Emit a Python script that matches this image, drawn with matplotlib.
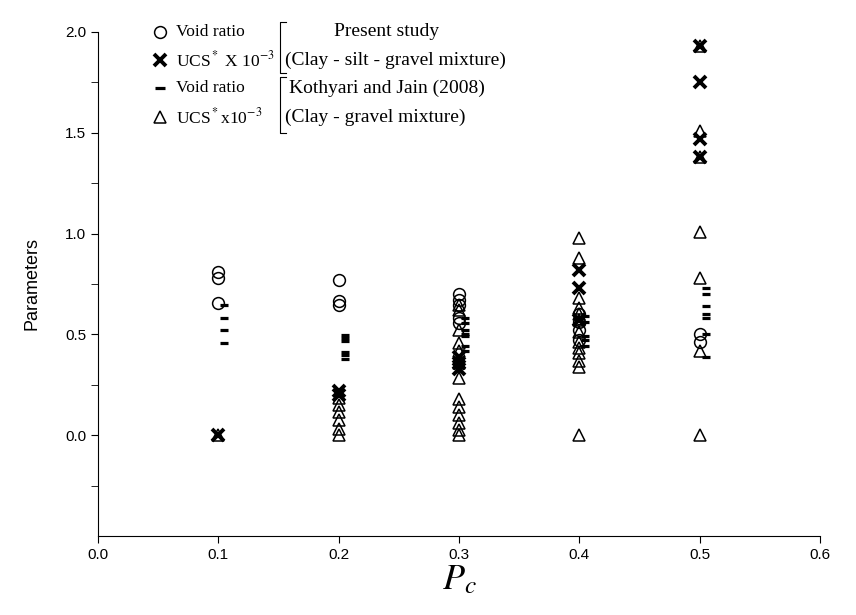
import matplotlib.pyplot as plt
from matplotlib.path import Path

# data
void_present_x = [0.1] * 3 + [0.2] * 3 + [0.3] * 5 + [0.4] * 4 + [0.5] * 2
void_present_y = [0.81, 0.78, 0.655,
                  0.77, 0.667, 0.645,
                  0.70, 0.67, 0.645, 0.58, 0.555,
                  0.60, 0.56, 0.52, 0.47,
                  0.50, 0.46]

ucs_present_x = [0.1] + [0.2] * 2 + [0.3] * 3 + [0.4] * 3 + [0.5] * 4
ucs_present_y = [0.0,
                 0.22, 0.20,
                 0.39, 0.36, 0.33,
                 0.82, 0.73, 0.57,
                 1.93, 1.75, 1.47, 1.38]

void_kj_x = [0.1] * 4 + [0.2] * 6 + [0.3] * 7 + [0.4] * 5 + [0.5] * 7
void_kj_y = [0.645, 0.58, 0.52, 0.457,
             0.495, 0.48, 0.465, 0.413, 0.397, 0.38,
             0.58, 0.555, 0.52, 0.50, 0.49, 0.44, 0.42,
             0.59, 0.56, 0.49, 0.47, 0.44,
             0.73, 0.70, 0.64, 0.60, 0.58, 0.50, 0.39]

ucs_kj_x = [0.1] + [0.2] * 6 + [0.3] * 13 + [0.4] * 13 + [0.5] * 7
ucs_kj_y = [0.0,
            0.182, 0.149, 0.116, 0.074, 0.033, 0.0,
            0.645, 0.62, 0.52, 0.457, 0.42, 0.357, 0.283, 0.18, 0.14, 0.10, 0.06, 0.025, 0.0,
            0.98, 0.88, 0.68, 0.63, 0.60, 0.57, 0.51, 0.46, 0.43, 0.41, 0.37, 0.34, 0.0,
            1.93, 1.51, 1.38, 1.01, 0.78, 0.42, 0.0]

legend_labels = ['Void ratio', r'UCS$^*$ X 10$^{-3}$', 'Void ratio', r'UCS$^*$x10$^{-3}$']

xticks = [0.0, 0.1, 0.2, 0.3, 0.4, 0.5, 0.6]
yticks = [0.0, 0.5, 1.0, 1.5, 2.0]

plt.rcParams['font.family'] = ['Liberation Sans', 'DejaVu Sans']
plt.rcParams['mathtext.fontset'] = 'stix'

fig = plt.figure(figsize=(8.56, 6.15), dpi=100)
ax = fig.add_axes([0.1145, 0.1285, 0.8435, 0.8195])

dash = Path([(0.2, 0), (1.0, 0)], [Path.MOVETO, Path.LINETO])
styles = [dict(marker='o', mfc='none', mec='black', ms=8.5, mew=1.1),
          dict(marker='x', color='black', ms=8, mew=2.8),
          dict(marker=dash, color='black', ms=14, mew=2.3),
          dict(marker='^', mfc='none', mec='black', ms=9, mew=1.1)]

series = [(void_present_x, void_present_y), (ucs_present_x, ucs_present_y),
          (void_kj_x, void_kj_y), (ucs_kj_x, ucs_kj_y)]
for (xs, ys), st in zip(series, styles):
    ax.plot(xs, ys, ls='none', **st)

ax.set_xlim(0.0, 0.6)
ax.set_ylim(-0.5, 2.0)
ax.set_xticks(xticks)
ax.set_yticks(yticks)
ax.set_xticklabels(['%.1f' % v for v in xticks])
ax.set_yticklabels(['%.1f' % v for v in yticks])
ax.set_yticks([-0.25, 0.25, 0.75, 1.25, 1.75], minor=True)
ax.tick_params(which='both', direction='out', labelsize=11, length=5)
ax.spines['top'].set_visible(False)
ax.spines['right'].set_visible(False)

ax.set_ylabel('Parameters', fontsize=13, labelpad=18)
ax.set_xlabel('$P_c$', fontsize=26, labelpad=0)

# hand-made legend
serif = 'Liberation Serif'
rows = [1.0, 0.944, 0.889, 0.831]
for yy, st, lab in zip(rows, styles, legend_labels):
    st2 = dict(st)
    if st2['marker'] is dash:
        st2['marker'] = '_'
        st2['ms'] = 7
    ax.plot([0.086], [yy], transform=ax.transAxes, clip_on=False, ls='none', **st2)
    ax.text(0.108, yy, lab, transform=ax.transAxes, family=serif, fontsize=12.5, va='center')

# brackets and group notes
bx = 0.252
ax.plot([bx + 0.008, bx, bx, bx + 0.008], [1.02, 1.02, 0.919, 0.919], transform=ax.transAxes,
        color='black', lw=0.8, clip_on=False)
ax.plot([bx + 0.008, bx, bx, bx + 0.008], [0.911, 0.911, 0.80, 0.80], transform=ax.transAxes,
        color='black', lw=0.8, clip_on=False)
ax.text(0.40, 1.0, 'Present study', transform=ax.transAxes, family=serif, fontsize=14,
        ha='center', va='center')
ax.text(0.259, 0.944, '(Clay - silt - gravel mixture)', transform=ax.transAxes, family=serif,
        fontsize=14, ha='left', va='center')
ax.text(0.265, 0.889, 'Kothyari and Jain (2008)', transform=ax.transAxes, family=serif,
        fontsize=14, ha='left', va='center')
ax.text(0.259, 0.831, '(Clay - gravel mixture)', transform=ax.transAxes, family=serif,
        fontsize=14, ha='left', va='center')

fig.savefig('out.png', dpi=100)
